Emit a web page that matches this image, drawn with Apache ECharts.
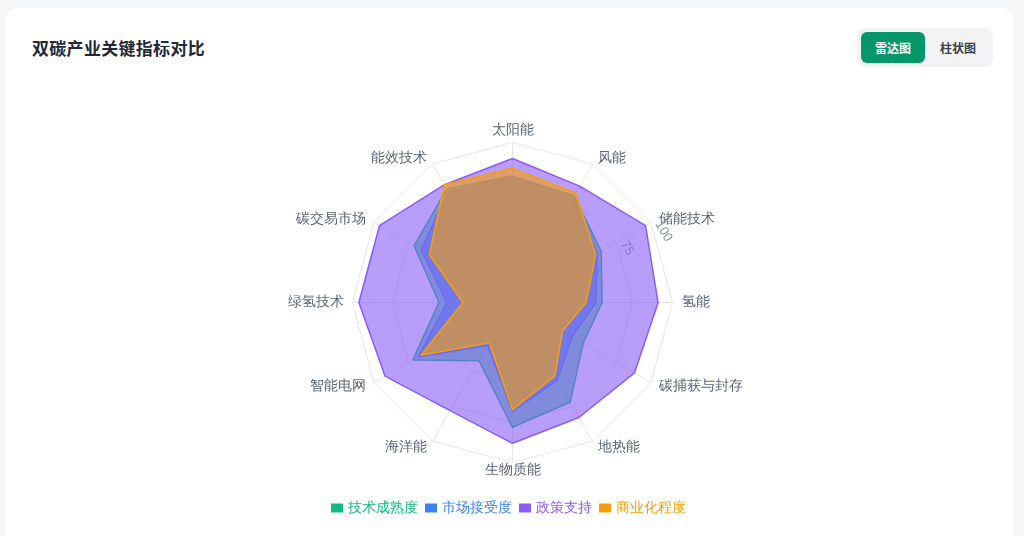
<!DOCTYPE html>
<html>
<head>
<meta charset="utf-8">
<script src="https://cdn.jsdelivr.net/npm/echarts@6/dist/echarts.min.js"></script>
<style>
  html, body { margin: 0; padding: 0; width: 1024px; height: 536px; overflow: hidden; background: #f5f6f8; font-family: "Noto Sans CJK SC", "Noto Sans", sans-serif; }
  .card { position: absolute; left: 6px; top: 8px; width: 1007px; height: 560px; background: #fff; border-radius: 12px; }
  .title { position: absolute; left: 32px; top: 37px; font-size: 17px; font-weight: bold; color: #1f2937; line-height: 22px; letter-spacing: 0.3px; }
  .switch { position: absolute; left: 857px; top: 28px; width: 136px; height: 39px; background: #f1f3f5; border-radius: 8px; }
  .switch span { position: absolute; top: 4px; width: 64px; height: 31px; line-height: 31px; text-align: center; font-size: 12px; font-weight: bold; border-radius: 6px; }
  .switch .on { left: 4px; background: #059669; color: #fff; }
  .switch .off { left: 69px; color: #374151; }
  #radar_echarts { position: absolute; left: 0; top: 0; width: 1024px; height: 536px; }
</style>
</head>
<body>
<div class="card"></div>
<div class="title">双碳产业关键指标对比</div>
<div class="switch"><span class="on">雷达图</span><span class="off">柱状图</span></div>
<div id="radar_echarts"></div>
<script>
// 指标（雷达图从顶部起逆时针排列）
var indicatorNames = ['太阳能', '能效技术', '碳交易市场', '绿氢技术', '智能电网', '海洋能',
    '生物质能', '地热能', '碳捕获与封存', '氢能', '储能技术', '风能'];
var seriesNames = ['技术成熟度', '市场接受度', '政策支持', '商业化程度'];
var seriesColors = ['#10b981', '#3b82f6', '#8b5cf6', '#f59e0b'];
// 各系列数值
var techMaturity = [79, 82, 71, 46, 72, 42, 78, 72, 51, 56, 64, 77];
var marketAccept = [79, 80, 66, 41, 68, 31, 68, 56, 43, 52, 61, 76];
var policySupport = [90, 85, 96, 96, 92, 78, 88, 83, 88, 91, 96, 84];
var commercialize = [84, 85, 60, 31, 66, 29, 67, 53, 36, 46, 60, 79];
var seriesValues = [techMaturity, marketAccept, policySupport, commercialize];
// 刻度轴所在指标
var labelAxis = '储能技术';

var myChart = echarts.init(document.getElementById('radar_echarts'));

var option = {
    //图例
    legend: {
        bottom: 16,
        left: 326,
        icon: 'rect',
        itemWidth: 12,
        itemHeight: 9,
        itemGap: 7,
        data: seriesNames.map(function (name, i) {
            return { name: name, textStyle: { color: seriesColors[i], fontSize: 14 } };
        })
    },
    radar: {
        center: [512.5, 302.5],
        radius: 160,
        shape: 'polygon',
        splitNumber: 4,
        nameGap: 7,
        axisName: {
            color: '#5b6474',
            fontSize: 14,
            lineHeight: 1,
            padding: [0, 2, 5, 2]
        },
        axisLine: { lineStyle: { color: '#e5e7eb' } },
        splitLine: { lineStyle: { color: '#e5e7eb' } },
        splitArea: { show: false },
        axisLabel: {
            color: '#8a94a6',
            fontSize: 13,
            rotate: -60,
            margin: -3,
            align: 'left',
            verticalAlign: 'bottom'
        },
        indicator: indicatorNames.map(function (name) {
            var item = { name: name, max: 100, min: 0, nameMoveOverlap: false };
            if (name === labelAxis) {
                item.axisLabel = { show: true };
            }
            return item;
        })
    },
    series: [{
        type: 'radar',
        symbol: 'none',
        data: seriesNames.map(function (name, i) {
            return {
                name: name,
                value: seriesValues[i],
                itemStyle: { color: seriesColors[i] },
                lineStyle: { color: seriesColors[i], width: 1.5 },
                areaStyle: { color: seriesColors[i], opacity: 0.6 }
            };
        })
    }]
};
myChart.setOption(option);
</script>
</body>
</html>
